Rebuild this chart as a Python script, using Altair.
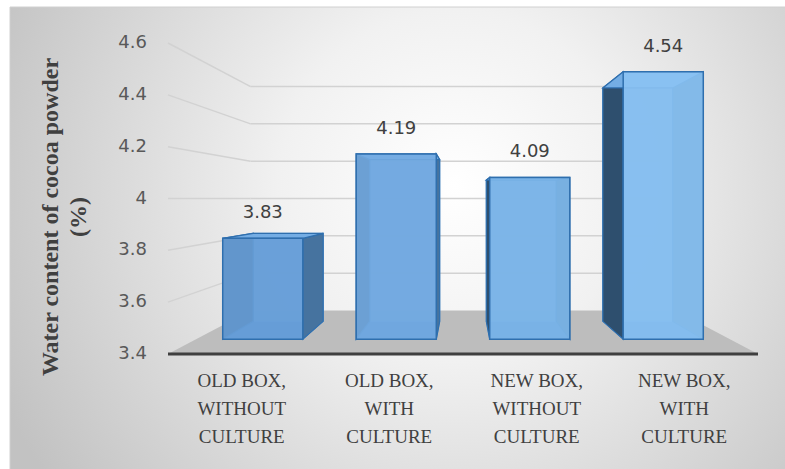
import altair as alt
import pandas as pd

# ---------------- data ----------------
categories = [
    "Old box, without culture",
    "Old box, with culture",
    "New box, without culture",
    "New box, with culture",
]
values = [3.83, 4.19, 4.09, 4.54]
y_ticks = [3.4, 3.6, 3.8, 4.0, 4.2, 4.4, 4.6]
y_title = ["Water content of cocoa powder", "(%)"]

# ---------------- 3-D look (style parameters) ----------------
VP_U, VP_V = 2.0, 4.0          # vanishing point, in data units
K_FRONT, K_BACK, K_WALL = 0.905, 0.79, 0.72
HALF_W = 0.30
Y_MIN, Y_MAX = 3.4, 4.6
N = len(categories)

W, H = 590, 311
PAD = {"left": 168, "top": 43, "right": 27, "bottom": 115}

bars = pd.DataFrame({"i": list(range(N)), "category": categories, "value": values})
ticks = pd.DataFrame({"v": y_ticks})
depths = pd.DataFrame({"k": [1.0, K_WALL]})
one = pd.DataFrame({"z": [0]})

XS = alt.Scale(domain=[0, N], nice=False, zero=False)
YS = alt.Scale(domain=[Y_MIN, Y_MAX], nice=False, zero=False)


def X(f):
    return alt.X(f, type="quantitative", scale=XS, axis=None)


def Y(f):
    return alt.Y(f, type="quantitative", scale=YS, axis=None)


def P(center, k, expr):
    return f"{center} + ({k}) * (({expr}) - {center})"


# ---------------- background ----------------
GRAD = {
    "gradient": "radial",
    "x1": 0.55, "y1": 0.42, "x2": 0.55, "y2": 0.42,
    "r1": 0, "r2": 0.62,
    "stops": [
        {"offset": 0.0, "color": "#ffffff"},
        {"offset": 0.35, "color": "#f1f1f1"},
        {"offset": 1.0, "color": "#c2c2c2"},
    ],
}
bg = alt.Chart(one).mark_rect(fill=GRAD, stroke="#d0d0d0", strokeWidth=1).encode(
    x=alt.value(-158), x2=alt.value(650), y=alt.value(-36), y2=alt.value(450)
)

# ---------------- floor ----------------
floor = alt.Chart(depths).transform_calculate(
    v=P(VP_V, "datum.k", Y_MIN),
    u1=P(VP_U, "datum.k", 0),
    u2=P(VP_U, "datum.k", N),
).mark_area(orient="horizontal", color="#bdbdbd").encode(
    y=Y("v"), x=X("u1"), x2="u2:Q"
)

# ---------------- gridlines (side wall + back wall) ----------------
grid_base = alt.Chart(ticks).transform_filter(f"datum.v > {Y_MIN}").transform_calculate(
    vb=P(VP_V, K_WALL, "datum.v"),
    u0="0",
    uw1=P(VP_U, K_WALL, 0),
    uw2=P(VP_U, K_WALL, N),
)
side_grid = grid_base.mark_rule(color="#d2d2d2", strokeWidth=1.5).encode(
    x=X("u0"), x2="uw1:Q", y=Y("v"), y2="vb:Q"
)
back_grid = grid_base.mark_rule(color="#d2d2d2", strokeWidth=1.5).encode(
    x=X("uw1"), x2="uw2:Q", y=Y("vb")
)

axis_line = alt.Chart(one).transform_calculate(
    u0="0", u1=str(N), v=str(Y_MIN)
).mark_rule(color="#3f3f3f", strokeWidth=3).encode(x=X("u0"), x2="u1:Q", y=Y("v"))

# ---------------- y axis labels and title (as text marks on the y scale) ----------------
tick_labels = alt.Chart(ticks).transform_calculate(u0="0").mark_text(
    align="right", baseline="middle", dx=-21,
    font="DejaVu Sans", fontSize=18, color="#595959",
).encode(x=X("u0"), y=Y("v"), text=alt.Text("v:Q", format="~g"))

y_title_mark = alt.Chart(one).mark_text(
    text=y_title, angle=270, align="center", baseline="middle", lineHeight=28,
    font="Liberation Serif", fontSize=24, fontWeight="bold", color="#404040",
).encode(x=alt.value(-117), y=alt.value(174))

# ---------------- 3-D bars ----------------
faces = alt.Chart(bars).transform_calculate(
    k=f"[{K_FRONT}, {K_BACK}]"
).transform_flatten(["k"]).transform_calculate(
    uL=P(VP_U, "datum.k", f"datum.i + 0.5 - {HALF_W}"),
    uR=P(VP_U, "datum.k", f"datum.i + 0.5 + {HALF_W}"),
    vT=P(VP_V, "datum.k", "datum.value"),
    vB=P(VP_V, "datum.k", Y_MIN),
)
EDGE = "#2f6fae"
back_face = faces.transform_filter(f"datum.k == {K_BACK}").mark_rect(
    fill="#5d93cc", fillOpacity=0.9, stroke="#5c9ad6", strokeWidth=1
).encode(x=X("uL"), x2="uR:Q", y=Y("vT"), y2="vB:Q")
bottom_face = faces.mark_area(
    orient="horizontal", fill="#4f86c0", stroke="#5c9ad6", strokeWidth=1
).encode(y=Y("vB"), x=X("uL"), x2="uR:Q", detail="category:N")
left_face = faces.mark_area(
    fill="#2e4f6e", stroke=EDGE, strokeWidth=1.2
).encode(x=X("uL"), y=Y("vT"), y2="vB:Q", detail="category:N")
right_face = faces.mark_area(
    fill="#46739f", stroke=EDGE, strokeWidth=1.2
).encode(x=X("uR"), y=Y("vT"), y2="vB:Q", detail="category:N")
top_face = faces.mark_area(
    orient="horizontal", fill="#74ade4", stroke=EDGE, strokeWidth=1.2
).encode(y=Y("vT"), x=X("uL"), x2="uR:Q", detail="category:N")
front_face = faces.transform_filter(f"datum.k == {K_FRONT}").mark_rect(
    fillOpacity=0.88, stroke=EDGE, strokeWidth=1.5
).encode(
    x=X("uL"), x2="uR:Q", y=Y("vT"), y2="vB:Q",
    fill=alt.Fill("i:Q", scale=alt.Scale(domain=[0, N - 1], range=["#6aa0da", "#8cc4f4"]), legend=None),
)

# ---------------- texts ----------------
value_labels = alt.Chart(bars).transform_calculate(
    uc=P(VP_U, K_FRONT, "datum.i + 0.5"),
    vt=P(VP_V, K_FRONT, "datum.value"),
).mark_text(
    dy=-25, font="DejaVu Sans", fontSize=18, color="#404040", baseline="middle"
).encode(x=X("uc"), y=Y("vt"), text=alt.Text("value:Q", format=".2f"))

cat_labels = alt.Chart(bars).transform_calculate(
    uc="datum.i + 0.5",
    vb=str(Y_MIN),
    lbl="replace(replace(upper(datum.category), ', ', ',\\n'), ' CULTURE', '\\nCULTURE')",
).mark_text(
    baseline="top", dy=18, lineBreak="\n", lineHeight=28,
    font="Liberation Serif", fontSize=19, color="#404040",
).encode(x=X("uc"), y=Y("vb"), text="lbl:N")

chart = alt.layer(
    bg, floor, side_grid, back_grid, axis_line,
    back_face, bottom_face, left_face, right_face, top_face, front_face,
    value_labels, cat_labels, tick_labels, y_title_mark,
).properties(
    width=W, height=H, padding=PAD,
    autosize=alt.AutoSizeParams(type="none"), background="white",
).configure_view(stroke=None)

chart.save("out.html", embed_options={"renderer": "svg", "actions": False})
